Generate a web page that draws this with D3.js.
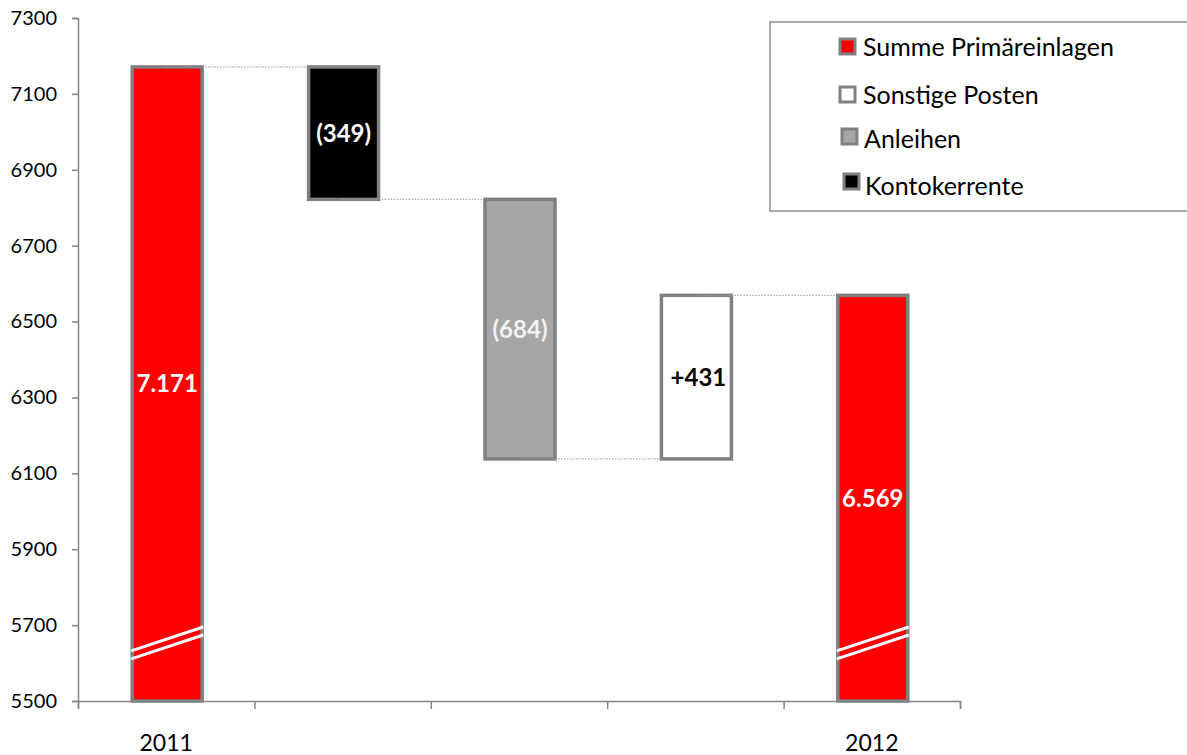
<!DOCTYPE html>
<html>
<head>
<meta charset="utf-8">
<script src="https://cdn.jsdelivr.net/npm/d3@7"></script>
<style>
  html, body { margin: 0; padding: 0; background: #fff; }
  svg { display: block; font-family: Lato, "Open Sans", sans-serif; }
</style>
</head>
<body>
<svg id="chart" width="1187" height="755"></svg>
<script>
// Bridge of total primary deposits, 2011 -> 2012
const categories = ["2011", "Kontokerrente", "Anleihen", "Sonstige Posten", "2012"];
const axisLabels = ["2011", "", "", "", "2012"];
const kinds = ["total", "delta", "delta", "delta", "total"];
const values = [7171, -349, -684, 431, 6569];
const barLabels = ["7.171", "(349)", "(684)", "+431", "6.569"];
const fills = ["#ff0000", "#000000", "#a6a6a6", "#ffffff", "#ff0000"];
const labelColors = ["#ffffff", "#ffffff", "#f2f2f2", "#000000", "#ffffff"];
const yTicks = [5500, 5700, 5900, 6100, 6300, 6500, 6700, 6900, 7100, 7300];
const legendNames = ["Summe Primäreinlagen", "Sonstige Posten", "Anleihen", "Kontokerrente"];
const legendFills = ["#ff0000", "#ffffff", "#a6a6a6", "#000000"];

const yMin = 5500, yMax = 7300;
const plot = { left: 78, right: 960, top: 18, bottom: 701 };

const svg = d3.select("#chart");

const y = d3.scaleLinear().domain([yMin, yMax]).range([plot.bottom, plot.top]);
const x = d3.scaleBand().domain(categories).range([plot.left, plot.right]).paddingInner(0).paddingOuter(0);
const edge = d3.scaleLinear().domain([0, categories.length]).range([plot.left, plot.right]);

// running level for the floating bars
let level = 0;
const bars = categories.map((c, i) => {
  let lo, hi, end;
  if (kinds[i] === "total") {
    lo = yMin; hi = values[i]; end = values[i];
  } else {
    const start = level;
    end = level + values[i];
    lo = Math.min(start, end); hi = Math.max(start, end);
  }
  level = end;
  return { cat: c, lo, hi, end, i };
});

const barW = 70;
const cx = d => x(d) + x.bandwidth() / 2;

// bars
svg.append("g").selectAll("rect").data(bars).join("rect")
  .attr("x", d => cx(d.cat) - barW / 2 + 1)
  .attr("width", barW)
  .attr("y", d => y(d.hi))
  .attr("height", d => y(d.lo) - y(d.hi))
  .attr("fill", d => fills[d.i])
  .attr("stroke", "#808080").attr("stroke-width", 3.5);

// dotted connectors between consecutive bars
bars.slice(0, -1).forEach((b, i) => {
  const next = bars[i + 1];
  svg.append("line")
    .attr("x1", cx(b.cat))
    .attr("x2", cx(next.cat) - barW / 2 - 1)
    .attr("y1", y(b.end)).attr("y2", y(b.end))
    .attr("stroke", "#9a9a9a").attr("stroke-width", 1)
    .attr("stroke-dasharray", "1.5,1.5");
});

// axis-break marks on the total bars
bars.filter(d => kinds[d.i] === "total").forEach(d => {
  const x0 = cx(d.cat) - barW / 2;
  const x1 = x0 + barW + 2;
  [0, 8].forEach(off => {
    svg.append("line")
      .attr("x1", x0).attr("x2", x1)
      .attr("y1", y(5632) + off).attr("y2", y(5695) + off)
      .attr("stroke", "#ffffff").attr("stroke-width", 3);
  });
});

// value labels
svg.append("g").selectAll("text").data(bars).join("text")
  .attr("x", d => cx(d.cat) + (d.i === 3 ? 3 : 1))
  .attr("y", d => y((d.lo + d.hi) / 2))
  .attr("dy", "0.35em")
  .attr("text-anchor", "middle")
  .attr("font-size", 24).attr("font-weight", "bold")
  .attr("fill", d => labelColors[d.i])
  .text(d => barLabels[d.i]);

// y axis
const yAxis = svg.append("g").attr("transform", `translate(${plot.left},0)`)
  .call(d3.axisLeft(y).tickValues(yTicks).tickFormat(d3.format("d")).tickSize(6).tickSizeOuter(6).tickPadding(15));
yAxis.select(".domain").attr("stroke", "#868686").attr("stroke-width", 1.5);
yAxis.selectAll(".tick line").attr("stroke", "#868686").attr("stroke-width", 1.5);
yAxis.selectAll(".tick text").attr("font-size", 20).attr("font-family", "Lato, sans-serif").attr("fill", "#000");

// x axis: tick marks on category boundaries
const xAxis = svg.append("g").attr("transform", `translate(0,${plot.bottom})`)
  .call(d3.axisBottom(edge).tickValues(d3.range(categories.length + 1)).tickFormat("").tickSize(8).tickSizeOuter(8));
xAxis.select(".domain").attr("stroke", "#868686").attr("stroke-width", 1.5);
xAxis.selectAll(".tick line").attr("stroke", "#868686").attr("stroke-width", 1.5);

// category labels
svg.append("g").selectAll("text").data(categories).join("text")
  .attr("x", d => cx(d))
  .attr("y", 751)
  .attr("text-anchor", "middle")
  .attr("font-size", 23)
  .attr("fill", "#000")
  .text((d, i) => axisLabels[i]);

// legend
const lg = svg.append("g");
lg.append("rect").attr("x", 770).attr("y", 22).attr("width", 430).attr("height", 189)
  .attr("fill", "#fff").attr("stroke", "#8c8c8c").attr("stroke-width", 1.5);
const legendPos = [
  { mx: 840, my: 39, tx: 863, ty: 56 },
  { mx: 840, my: 87, tx: 863, ty: 104 },
  { mx: 842, my: 129, tx: 864, ty: 148 },
  { mx: 844, my: 174, tx: 865, ty: 195 }
];
legendNames.forEach((n, i) => {
  const p = legendPos[i];
  lg.append("rect").attr("x", p.mx).attr("y", p.my).attr("width", 15).attr("height", 15)
    .attr("fill", legendFills[i]).attr("stroke", "#808080").attr("stroke-width", 3);
  lg.append("text").attr("x", p.tx).attr("y", p.ty)
    .attr("font-size", 25).attr("fill", "#000").text(n);
});
</script>
</body>
</html>
